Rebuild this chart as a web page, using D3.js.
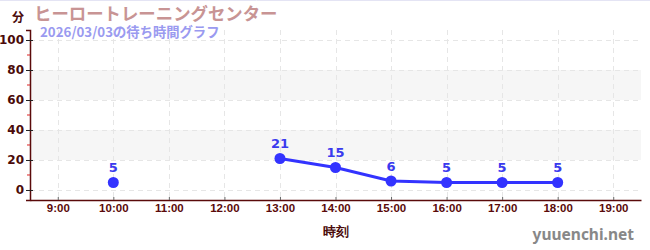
<!DOCTYPE html>
<html>
<head>
<meta charset="utf-8">
<script src="https://cdn.jsdelivr.net/npm/d3@7"></script>
<style>
  body { margin: 0; background: #fff; }
  svg { display: block; font-family: "Noto Sans CJK JP", "Noto Sans", sans-serif; }
</style>
</head>
<body>
<div id="wrapper"></div>
<script>
const hours = [9, 10, 11, 12, 13, 14, 15, 16, 17, 18, 19];
const tickLabels = ["9:00", "10:00", "11:00", "12:00", "13:00", "14:00", "15:00", "16:00", "17:00", "18:00", "19:00"];
const pointHours = [10, 11, 12, 13, 14, 15, 16, 17, 18];
const waitTimes = [5, null, null, 21, 15, 6, 5, 5, 5];
const yTicks = [0, 20, 40, 60, 80, 100];
const yMinorTicks = [10, 30, 50, 70, 90];
const bands = [[20, 40], [60, 80]];

const title = "ヒーロートレーニングセンター";
const subtitle = "2026/03/03の待ち時間グラフ";

function drawChart() {
  const dataset = pointHours.map((h, i) => ({ hour: h, value: waitTimes[i] }));
  const xAccessor = (d) => d.hour;
  const yAccessor = (d) => d.value;

  const dimensions = {
    width: 650,
    height: 250,
    margin: { top: 30, right: 9, bottom: 50, left: 30 },
  };
  dimensions.boundedWidth = dimensions.width - dimensions.margin.left - dimensions.margin.right;
  dimensions.boundedHeight = dimensions.height - dimensions.margin.top - dimensions.margin.bottom;

  const wrapper = d3.select("#wrapper")
    .append("svg")
    .attr("width", dimensions.width)
    .attr("height", dimensions.height);

  wrapper.append("line")
    .attr("x1", 0).attr("x2", dimensions.width)
    .attr("y1", 0.5).attr("y2", 0.5)
    .attr("stroke", "#e4e4f4");

  const bounds = wrapper.append("g")
    .attr("transform", `translate(${dimensions.margin.left},${dimensions.margin.top})`);

  const xScale = d3.scaleLinear()
    .domain([8.5, 19.5])
    .range([0, dimensions.boundedWidth]);

  const yScale = d3.scaleLinear()
    .domain([-6.67, 106.67])
    .range([dimensions.boundedHeight, 0]);

  // bands
  bounds.selectAll(".band")
    .data(bands)
    .join("rect")
    .attr("x", 0)
    .attr("width", dimensions.boundedWidth)
    .attr("y", (d) => yScale(d[1]))
    .attr("height", (d) => yScale(d[0]) - yScale(d[1]))
    .attr("fill", "#f6f6f6");

  // grid
  bounds.selectAll(".hgrid")
    .data(yTicks)
    .join("line")
    .attr("x1", 0).attr("x2", dimensions.boundedWidth)
    .attr("y1", (d) => Math.round(yScale(d)) + 0.5)
    .attr("y2", (d) => Math.round(yScale(d)) + 0.5)
    .attr("stroke", "#e6e6e6")
    .attr("stroke-dasharray", "5,4");

  bounds.selectAll(".vgrid")
    .data(hours)
    .join("line")
    .attr("x1", (d) => Math.round(xScale(d)) + 0.5)
    .attr("x2", (d) => Math.round(xScale(d)) + 0.5)
    .attr("y1", 0).attr("y2", dimensions.boundedHeight)
    .attr("stroke", "#e6e6e6")
    .attr("stroke-dasharray", "5,4");

  // x axis
  const xAxisGenerator = d3.axisBottom(xScale)
    .tickValues(hours)
    .tickFormat((d, i) => tickLabels[i])
    .tickSizeInner(-3)
    .tickSizeOuter(0)
    .tickPadding(4);

  const xAxis = bounds.append("g")
    .attr("transform", `translate(0,${dimensions.boundedHeight})`)
    .call(xAxisGenerator);
  xAxis.select(".domain").attr("stroke", "#5a0a0a").attr("stroke-width", 1.5);
  xAxis.selectAll(".tick line").attr("stroke", "#666");
  xAxis.selectAll(".tick text")
    .attr("fill", "#5a0a0a")
    .style("font-size", "11.5px")
    .style("font-weight", "bold")
    .style("font-family", "'Liberation Sans', sans-serif");

  xAxis.append("text")
    .attr("x", xScale(14))
    .attr("y", 36)
    .attr("text-anchor", "middle")
    .attr("fill", "#4a0a0a")
    .style("font-size", "12.5px")
    .style("font-weight", "bold")
    .text("時刻");

  // y axis
  const yAxisGenerator = d3.axisLeft(yScale)
    .tickValues(yTicks)
    .tickSizeOuter(0)
    .tickSize(4)
    .tickPadding(2);

  const yAxis = bounds.append("g").call(yAxisGenerator);
  yAxis.select(".domain").attr("stroke", "#5a0a0a").attr("stroke-width", 1.5);
  yAxis.selectAll(".tick line").attr("x2", 3).attr("x1", -4).attr("stroke", "#222");
  yAxis.selectAll(".tick text")
    .attr("fill", "#4a0a0a")
    .style("font-size", "12px")
    .style("font-weight", "bold")
    .style("font-family", "'DejaVu Sans', sans-serif");

  yAxis.selectAll(".minor")
    .data(yMinorTicks)
    .join("line")
    .attr("x1", -3).attr("x2", 0)
    .attr("y1", (d) => yScale(d))
    .attr("y2", (d) => yScale(d))
    .attr("stroke", "#dd2222");

  // line + points
  const lineGenerator = d3.line()
    .defined((d) => yAccessor(d) !== null)
    .x((d) => xScale(xAccessor(d)))
    .y((d) => yScale(yAccessor(d)));

  bounds.append("path")
    .datum(dataset)
    .attr("d", lineGenerator)
    .attr("fill", "none")
    .attr("stroke", "#3333ff")
    .attr("stroke-width", 3);

  const points = dataset.filter((d) => yAccessor(d) !== null);

  bounds.selectAll(".dot")
    .data(points)
    .join("circle")
    .attr("cx", (d) => xScale(xAccessor(d)))
    .attr("cy", (d) => yScale(yAccessor(d)))
    .attr("r", 5.5)
    .attr("fill", "#3333ff");

  bounds.selectAll(".val")
    .data(points)
    .join("text")
    .attr("x", (d) => xScale(xAccessor(d)))
    .attr("y", (d) => yScale(yAccessor(d)) - 10)
    .attr("text-anchor", "middle")
    .attr("fill", "#3a3aee")
    .style("font-size", "13px")
    .style("font-weight", "bold")
    .style("font-family", "'DejaVu Sans', sans-serif")
    .text(yAccessor);

  // titles
  wrapper.append("text")
    .attr("x", 12).attr("y", 22)
    .attr("fill", "#4a0a0a")
    .style("font-size", "12px")
    .style("font-weight", "bold")
    .text("分");

  wrapper.append("text")
    .attr("x", 34).attr("y", 20)
    .attr("fill", "#c89494")
    .style("font-size", "17.4px")
    .style("font-weight", "bold")
    .text(title);

  wrapper.append("text")
    .attr("x", 40).attr("y", 37)
    .attr("fill", "#9a9af0")
    .style("font-size", "13.3px")
    .style("font-weight", "bold")
    .text(subtitle);

  wrapper.append("text")
    .attr("x", 634).attr("y", 240)
    .attr("text-anchor", "end")
    .attr("fill", "#888")
    .style("font-size", "15.5px")
    .style("font-weight", "bold")
    .style("font-family", "'Noto Sans', sans-serif")
    .text("yuuenchi.net");
}

drawChart();
</script>
</body>
</html>
